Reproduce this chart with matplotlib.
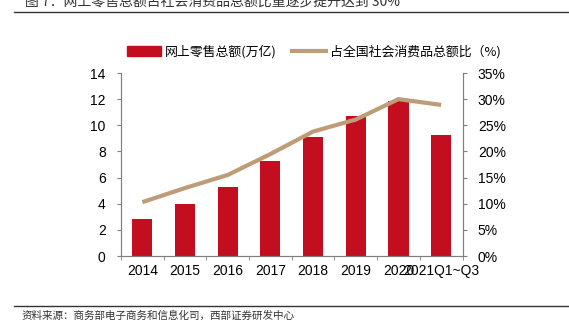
import matplotlib
matplotlib.use('Agg')
import matplotlib.pyplot as plt
from matplotlib.lines import Line2D
import numpy as np

plt.rcParams['font.family'] = ['Liberation Sans', 'Noto Sans CJK SC', 'DejaVu Sans']

years = ['2014', '2015', '2016', '2017', '2018', '2019', '2020', '2021Q1~Q3']
online_sales = [2.85, 3.98, 5.25, 7.28, 9.07, 10.7, 11.85, 9.25]   # 万亿
share_pct = [10.3, 13.0, 15.5, 19.5, 23.8, 26.1, 30.0, 28.9]         # %

bar_color = '#C20E1F'
line_color = '#BE9C78'
axis_color = '#808080'

fig = plt.figure(figsize=(5.69, 3.25), dpi=100)
ax = fig.add_axes([121 / 569, 1 - 256 / 325, (462.5 - 121) / 569, (256 - 73) / 325])
ax2 = ax.twinx()

x = np.arange(len(years))
bars = ax.bar(x, online_sales, width=0.47, color=bar_color, zorder=2)
ax2.plot(x, share_pct, color=line_color, lw=3, solid_capstyle='butt', zorder=3)

ax.set_xlim(-0.5, len(years) - 0.5)
ax.set_ylim(0, 14)
ax.set_yticks(range(0, 15, 2))
ax2.set_ylim(0, 35)
ax2.set_yticks(range(0, 36, 5))
ax2.set_yticklabels([f'{v}%' for v in range(0, 36, 5)])

ax.set_xticks(x)
ax.set_xticklabels(years)
ax.set_xticks(np.arange(-0.5, len(years), 1), minor=True)
ax.tick_params(axis='x', which='major', length=0, pad=6, labelsize=10)
ax.tick_params(axis='x', which='minor', length=3, direction='out', color=axis_color)
ax.tick_params(axis='y', length=3, color=axis_color, labelsize=10, pad=8)
ax2.tick_params(axis='y', length=3, color=axis_color, labelsize=10, pad=8)

for a in (ax, ax2):
    a.spines['top'].set_visible(False)
    for side in ('left', 'right', 'bottom'):
        a.spines[side].set_color(axis_color)
        a.spines[side].set_linewidth(0.8)

handles = [
    plt.Rectangle((0, 0), 1, 1, color=bar_color),
    Line2D([0], [0], color=line_color, lw=3),
]
labels = ['网上零售总额(万亿)', '占全国社会消费品总额比（%)']
fig.legend(handles, labels, loc='center', bbox_to_anchor=(314 / 569, 1 - 52 / 325),
           ncol=2, frameon=False, handlelength=2.6, handleheight=0.8,
           columnspacing=1.2, handletextpad=0.3,
           prop={'family': ['Noto Sans CJK SC', 'DejaVu Sans'], 'size': 9.3})

# header and footer rules
fig.add_artist(Line2D([14 / 569, 1], [1 - 12 / 325] * 2, color='#333333', lw=1))
fig.add_artist(Line2D([14 / 569, 1], [1 - 306 / 325] * 2, color='#333333', lw=1))
fig.text(25 / 569, 1 - 2 / 325, '图 7：网上零售总额占社会消费品总额比重逐步提升达到 30%',
         fontsize=10, va='center', ha='left', color='#333333',
         family=['Noto Sans CJK SC', 'DejaVu Sans'])
fig.text(22 / 569, 1 - 316 / 325, '资料来源：商务部电子商务和信息化司，西部证券研发中心',
         fontsize=7.6, va='center', ha='left', color='#333333',
         family=['Noto Sans CJK SC', 'DejaVu Sans'])

fig.savefig('out.png', dpi=100)
